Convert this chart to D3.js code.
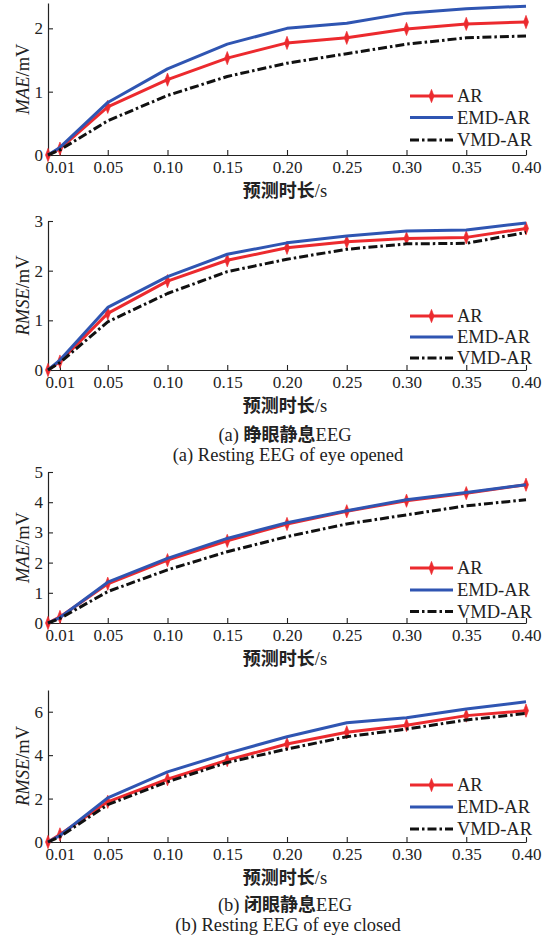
<!DOCTYPE html>
<html><head><meta charset="utf-8">
<script src="https://cdn.jsdelivr.net/npm/d3@7"></script>
<style>
html,body{margin:0;padding:0;background:#fff;}
svg{display:block;}
</style></head>
<body>
<script>
// ---- data ----
const xValues = [0, 0.01, 0.05, 0.10, 0.15, 0.20, 0.25, 0.30, 0.35, 0.40];
const xTicks = [0.01, 0.05, 0.10, 0.15, 0.20, 0.25, 0.30, 0.35, 0.40];
const seriesNames = ["AR", "EMD-AR", "VMD-AR"];

const maeOpenAR  = [0, 0.10, 0.76, 1.19, 1.53, 1.77, 1.85, 1.99, 2.07, 2.10];
const maeOpenEMD = [0, 0.12, 0.83, 1.36, 1.75, 2.00, 2.08, 2.24, 2.31, 2.35];
const maeOpenVMD = [0, 0.08, 0.54, 0.94, 1.24, 1.45, 1.60, 1.75, 1.85, 1.88];

const rmseOpenAR  = [0, 0.17, 1.14, 1.79, 2.21, 2.46, 2.58, 2.65, 2.67, 2.85];
const rmseOpenEMD = [0, 0.20, 1.26, 1.88, 2.33, 2.56, 2.70, 2.80, 2.82, 2.96];
const rmseOpenVMD = [0, 0.15, 0.97, 1.54, 1.98, 2.23, 2.43, 2.54, 2.55, 2.77];

const maeClosedAR  = [0, 0.20, 1.30, 2.08, 2.72, 3.28, 3.70, 4.05, 4.30, 4.58];
const maeClosedEMD = [0, 0.18, 1.35, 2.14, 2.80, 3.32, 3.72, 4.08, 4.32, 4.58];
const maeClosedVMD = [0, 0.15, 1.04, 1.76, 2.36, 2.86, 3.28, 3.58, 3.88, 4.08];

const rmseClosedAR  = [0, 0.35, 1.85, 2.89, 3.77, 4.51, 5.05, 5.38, 5.82, 6.05];
const rmseClosedEMD = [0, 0.30, 2.03, 3.23, 4.08, 4.85, 5.49, 5.72, 6.12, 6.46];
const rmseClosedVMD = [0, 0.25, 1.72, 2.77, 3.66, 4.28, 4.85, 5.20, 5.62, 5.92];

const yDomains = [[0, 2.4], [0, 3], [0, 5], [0, 7]];
const yTicks = [[0, 1, 2], [0, 1, 2, 3], [0, 1, 2, 3, 4, 5], [0, 2, 4, 6]];
const yTitles = ["MAE", "RMSE", "MAE", "RMSE"];
const xTitle = "预测时长/s";
const captions = [null, ["(a) ", "睁眼静息", "EEG", "(a) Resting EEG of eye opened"], null,
                  ["(b) ", "闭眼静息", "EEG", "(b) Resting EEG of eye closed"]];

// ---- layout ----
const W = 554, H = 936;
const SERIF = '"Liberation Serif","Times New Roman",serif';
const CJK = '"Noto Sans CJK SC",sans-serif';
const svg = d3.select("body").append("svg").attr("width", W).attr("height", H);
svg.append("rect").attr("width", W).attr("height", H).attr("fill", "#fff");

const colors = {"AR": "#ec2a2e", "EMD-AR": "#2f55b2", "VMD-AR": "#111"};
const dashes = {"AR": null, "EMD-AR": null, "VMD-AR": "9,3,2.5,3"};

const panelData = [
  [maeOpenAR, maeOpenEMD, maeOpenVMD],
  [rmseOpenAR, rmseOpenEMD, rmseOpenVMD],
  [maeClosedAR, maeClosedEMD, maeClosedVMD],
  [rmseClosedAR, rmseClosedEMD, rmseClosedVMD]
];
const panelRanges = [[155, 3], [370, 221], [623, 472], [842, 690]];
const legendOffsets = [[-59, -37.5, -15], [-54, -33, -12], [-55, -33, -11.5], [-57, -35, -13]];
const captionOffsets = [null, [71, 91], null, [69, 89]];

const x = d3.scaleLinear().domain([0, 0.40]).range([48, 526]);

function marker(g, cx, cy, color) {
  g.append("path")
    .attr("d", d3.symbol().type(d3.symbolDiamond).size(30)())
    .attr("transform", `translate(${cx},${cy}) scale(0.85,1.3)`)
    .attr("fill", color).attr("stroke", color).attr("stroke-width", 0.6);
}
function serifText(sel, size) {
  return sel.style("font-family", SERIF).style("font-size", size + "px").style("fill", "#222");
}

panelData.forEach((series, pi) => {
  const [y0, y1] = panelRanges[pi];
  const y = d3.scaleLinear().domain(yDomains[pi]).range([y0, y1]);
  const g = svg.append("g");

  // axes
  const xa = g.append("g").attr("transform", `translate(0,${y0})`)
    .call(d3.axisBottom(x).tickValues(xTicks).tickFormat(d3.format(".2f"))
      .tickSizeInner(-5).tickSizeOuter(0).tickPadding(6));
  const ya = g.append("g").attr("transform", `translate(${x(0)},0)`)
    .call(d3.axisLeft(y).tickValues(yTicks[pi]).tickFormat(d3.format("d"))
      .tickSizeInner(-5).tickSizeOuter(0).tickPadding(5));
  [xa, ya].forEach(a => {
    a.select(".domain").attr("stroke", "#222").attr("stroke-width", 1.2);
    a.selectAll(".tick line").attr("stroke", "#222").attr("stroke-width", 1.1);
    serifText(a.selectAll("text"), 17);
  });

  // lines
  series.forEach((vals, si) => {
    const name = seriesNames[si];
    const pts = xValues.map((xv, i) => [xv, vals[i]]);
    const line = d3.line().x(d => x(d[0])).y(d => y(d[1]));
    g.append("path").datum(pts).attr("d", line)
      .attr("fill", "none").attr("stroke", colors[name]).attr("stroke-width", 3)
      .attr("stroke-linejoin", "round")
      .attr("stroke-dasharray", dashes[name]);
    if (name === "AR") {
      pts.forEach(p => marker(g, x(p[0]), y(p[1]), colors[name]));
    }
  });

  // legend
  seriesNames.forEach((name, si) => {
    const ly = y0 + legendOffsets[pi][si];
    g.append("line").attr("x1", 410).attr("x2", 453).attr("y1", ly).attr("y2", ly)
      .attr("stroke", colors[name]).attr("stroke-width", 3)
      .attr("stroke-dasharray", dashes[name]);
    if (name === "AR") marker(g, 431.5, ly, colors[name]);
    serifText(g.append("text").attr("x", 457).attr("y", ly).attr("dy", "0.35em"), 18.5).text(name);
  });

  // y title
  const yt = serifText(g.append("text")
    .attr("transform", `translate(29,${(y0 + y1) / 2}) rotate(-90)`)
    .attr("text-anchor", "middle"), 18.5);
  yt.append("tspan").style("font-style", "italic").text(yTitles[pi]);
  yt.append("tspan").text("/mV");

  // x title
  const xt = serifText(g.append("text").attr("x", 285).attr("y", y0 + 42)
    .attr("text-anchor", "middle"), 18.5);
  xt.append("tspan").style("font-family", CJK).style("font-weight", "bold")
    .style("font-size", "18px").text(xTitle.slice(0, 4));
  xt.append("tspan").text(xTitle.slice(4));

  // captions
  const cap = captions[pi];
  if (cap) {
    const [o1, o2] = captionOffsets[pi];
    const c1 = serifText(g.append("text").attr("x", 285).attr("y", y0 + o1)
      .attr("text-anchor", "middle"), 18.5);
    c1.append("tspan").text(cap[0]);
    c1.append("tspan").style("font-family", CJK).style("font-weight", "bold")
      .style("font-size", "18px").text(cap[1]);
    c1.append("tspan").text(cap[2]);
    serifText(g.append("text").attr("x", 288).attr("y", y0 + o2)
      .attr("text-anchor", "middle"), 18.5).text(cap[3]);
  }
});
</script>
</body></html>
